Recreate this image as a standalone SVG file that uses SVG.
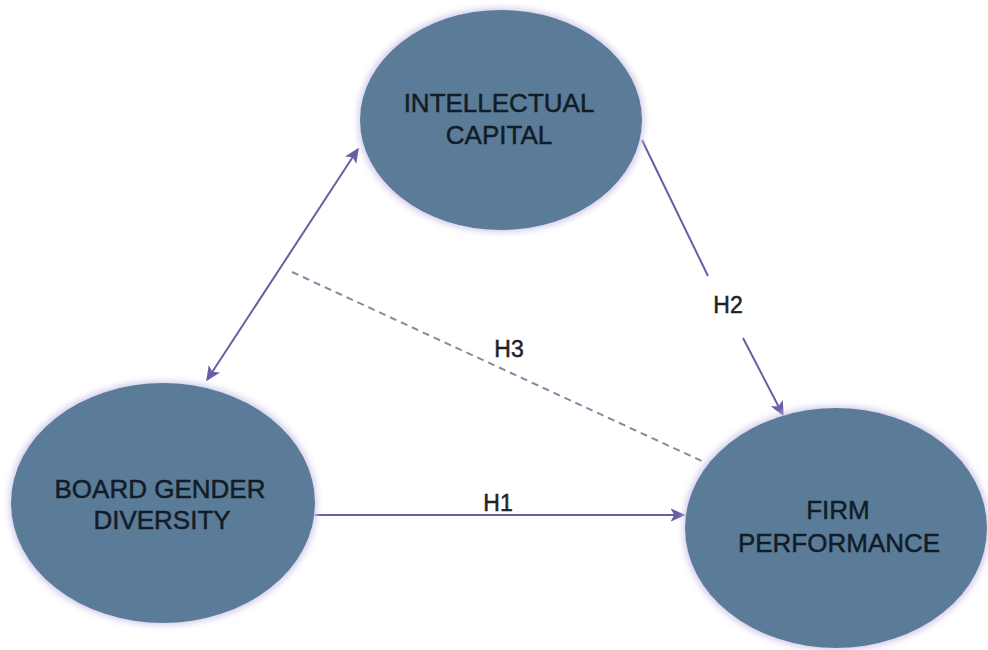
<svg xmlns="http://www.w3.org/2000/svg" width="988" height="650" viewBox="0 0 988 650">
  <style>
    .node { fill: #5a7b99; filter: url(#glow); }
    .ntext { font-family: "Liberation Sans", Arial, sans-serif; font-size: 26px; fill: #131c26; stroke: #131c26; stroke-width: 0.5; text-anchor: middle; }
    .ltext { font-family: "Liberation Sans", Arial, sans-serif; font-size: 23px; fill: #222226; stroke: #222226; stroke-width: 0.5; text-anchor: middle; }
    .conn { stroke: #6b5ca5; stroke-width: 2; fill: none; }
    .dash { stroke: #8a88a0; stroke-width: 2; fill: none; stroke-dasharray: 7 5; }
  </style>
  <defs>
    <filter id="glow" x="-10%" y="-10%" width="120%" height="120%">
      <feMorphology in="SourceAlpha" operator="dilate" radius="2" result="d"/>
      <feGaussianBlur in="d" stdDeviation="3" result="b"/>
      <feFlood flood-color="#cfc8ea" flood-opacity="0.9"/>
      <feComposite in2="b" operator="in" result="g"/>
      <feMerge>
        <feMergeNode in="g"/>
        <feMergeNode in="SourceGraphic"/>
      </feMerge>
    </filter>
    <marker id="arr" viewBox="0 0 10 10" refX="9" refY="5" markerWidth="15" markerHeight="15" orient="auto-start-reverse" markerUnits="userSpaceOnUse">
      <path d="M0,0.5 L10,5 L0,9.5 L2.5,5 z" fill="#6b5ca5"/>
    </marker>
  </defs>
  <rect width="988" height="650" fill="#ffffff"/>

  <g id="connectors">
    <line class="conn" x1="207" y1="380" x2="358" y2="149" marker-start="url(#arr)" marker-end="url(#arr)"/>
    <line class="conn" x1="642" y1="140" x2="708" y2="276"/>
    <line class="conn" x1="743" y1="338" x2="783" y2="415" marker-end="url(#arr)"/>
    <line class="conn" x1="315" y1="515" x2="684" y2="515" marker-end="url(#arr)"/>
    <line class="dash" x1="292" y1="272" x2="704" y2="462"/>
    <text class="ltext" x="728" y="313">H2</text>
    <text class="ltext" x="509" y="357">H3</text>
    <text class="ltext" x="498" y="511">H1</text>
  </g>

  <g id="intellectual-capital">
    <ellipse class="node" cx="501" cy="120" rx="141" ry="110"/>
    <text class="ntext" x="499" y="112">INTELLECTUAL</text>
    <text class="ntext" x="499" y="144">CAPITAL</text>
  </g>

  <g id="board-gender-diversity">
    <ellipse class="node" cx="163" cy="503" rx="152" ry="120"/>
    <text class="ntext" x="160" y="498">BOARD GENDER</text>
    <text class="ntext" x="162" y="529">DIVERSITY</text>
  </g>

  <g id="firm-performance">
    <ellipse class="node" cx="836" cy="528" rx="151" ry="120"/>
    <text class="ntext" x="838" y="519">FIRM</text>
    <text class="ntext" x="839" y="552">PERFORMANCE</text>
  </g>
</svg>
